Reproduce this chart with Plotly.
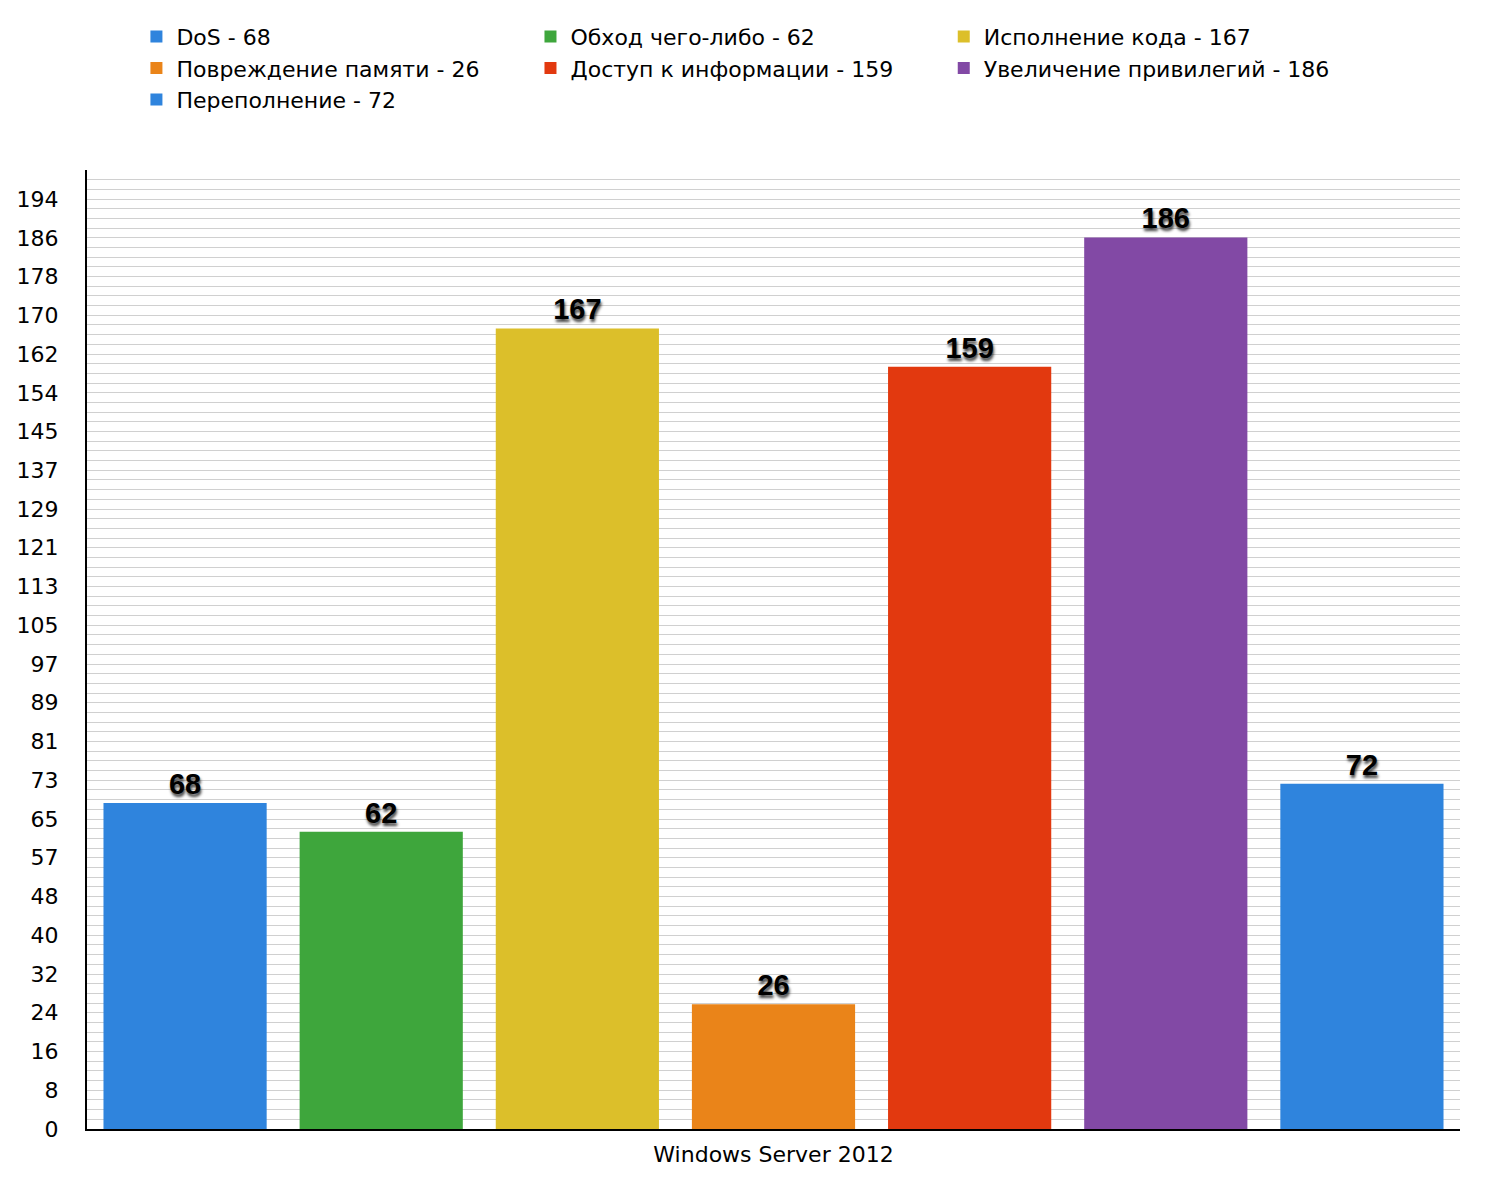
import plotly.graph_objects as go

category = ["Windows Server 2012"]
series_names = [
    "DoS",
    "Обход чего-либо",
    "Исполнение кода",
    "Повреждение памяти",
    "Доступ к информации",
    "Увеличение привилегий",
    "Переполнение",
]
series_values = [68, 62, 167, 26, 159, 186, 72]
series_colors = ["#2f84dd", "#3ea63c", "#dcbf2a", "#ea8419", "#e2390f", "#8249a5", "#2f84dd"]
legend_groups = ["legend", "legend2", "legend3", "legend", "legend2", "legend3", "legend"]
y_tick_labels = ["0", "8", "16", "24", "32", "40", "48", "57", "65", "73", "81", "89", "97",
                 "105", "113", "121", "129", "137", "145", "154", "162", "170", "178", "186", "194"]

y_top_label = 194
n_steps = len(y_tick_labels) - 1
step = y_top_label / n_steps
tickvals = [i * step for i in range(len(y_tick_labels))]

FONT = "DejaVu Sans, Verdana, sans-serif"
LFONT = "Liberation Sans, Arial, Helvetica, sans-serif"

fig = go.Figure()
for name, val, col, lg in zip(series_names, series_values, series_colors, legend_groups):
    fig.add_trace(go.Bar(
        x=category,
        y=[val],
        name=f"{name} - {val}",
        marker=dict(color=col, line=dict(width=0)),
        text=[str(val)],
        textposition="outside",
        cliponaxis=False,
        textfont=dict(family=LFONT, size=29, color="#000000", weight="bold",
                      shadow="1px 3px 3px rgba(0,0,0,0.75)"),
        legend=lg,
    ))

legend_common = dict(
    orientation="v",
    font=dict(family=FONT, size=22, color="#000000"),
    bgcolor="rgba(0,0,0,0)",
    xanchor="left",
    yanchor="top",
    tracegroupgap=0,
    itemclick=False,
)

fig.update_layout(
    width=1488,
    height=1184,
    margin=dict(l=87, r=28, t=170, b=55),
    paper_bgcolor="white",
    plot_bgcolor="white",
    barmode="group",
    bargap=0.0,
    bargroupgap=0.168,
    showlegend=True,
    legend=dict(x=0.036, y=1.161, **legend_common),
    legend2=dict(x=0.323, y=1.161, **legend_common),
    legend3=dict(x=0.624, y=1.161, **legend_common),
    font=dict(family=FONT, size=22, color="#000000"),
    xaxis=dict(
        showline=True, linecolor="#000000", linewidth=2,
        showgrid=False, ticks="",
        ticklabelstandoff=5,
        tickfont=dict(family=FONT, size=22, color="#000000"),
    ),
    yaxis=dict(
        range=[0, y_top_label * (n_steps * 4 + 3) / (n_steps * 4)],
        tickmode="array",
        tickvals=tickvals,
        ticktext=y_tick_labels,
        showline=True, linecolor="#000000", linewidth=2,
        showgrid=True, gridcolor="#d0d0d0", gridwidth=1,
        zeroline=False,
        ticks="",
        ticklabelstandoff=22,
        tickfont=dict(family=FONT, size=22, color="#000000"),
        minor=dict(dtick=step / 4, tick0=0, showgrid=True, gridcolor="#d0d0d0", gridwidth=1, ticks=""),
    ),
)

fig.write_html("out.html")
